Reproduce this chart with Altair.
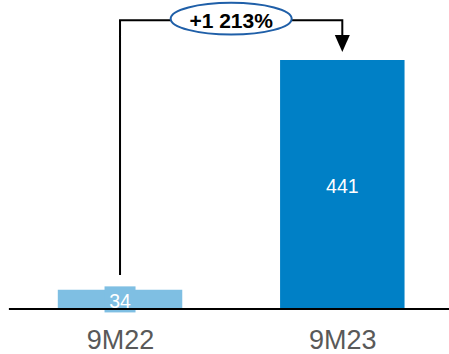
import altair as alt
import pandas as pd

# Nine-month totals for the two periods
periods = ["9M22", "9M23"]
values = [34, 441]
bar_colors = ["#7FBFE3", "#0080C6"]
growth_label = "+1 213%"

FONT = "Liberation Sans, Arial, sans-serif"

# Scale extents (data units) for the layout
X_MIN, X_MAX = -0.54, 1.48
Y_MAX = 547
HALF_BAR = 0.28

# Bracket geometry in data units
BRACKET_GAP = 26       # space between the small bar and the bracket start
BRACKET_TOP = 511      # height of the horizontal run
ARROW_TIP_GAP = 14     # space between arrow tip and the large bar

bars = pd.DataFrame({"period": periods, "value": values, "pos": list(range(len(periods)))})
bars["lo"] = bars["pos"] - HALF_BAR
bars["hi"] = bars["pos"] + HALF_BAR
bars["mid"] = bars["value"] / 2

bracket = pd.DataFrame({
    "pos": [0, 0, 1, 1],
    "y": [values[0] + BRACKET_GAP, BRACKET_TOP, BRACKET_TOP, values[1] + ARROW_TIP_GAP + 28],
    "step": [0, 1, 2, 3],
})
arrow = pd.DataFrame({"pos": [1], "y": [values[1] + ARROW_TIP_GAP]})
badge = pd.DataFrame({"pos": [0.5], "y": [BRACKET_TOP + 3], "label": [growth_label]})
baseline = pd.DataFrame({"x": [-0.5], "x2": [X_MAX], "y": [0]})

label_expr = "[" + ",".join(f"'{p}'" for p in periods) + "][datum.value]"

x_scale = alt.Scale(domain=[X_MIN, X_MAX], nice=False, zero=False)
y_scale = alt.Scale(domain=[0, Y_MAX], nice=False)

x_axis = alt.Axis(
    values=list(range(len(periods))), labelExpr=label_expr, title=None,
    grid=False, domain=False, ticks=False, labelFlush=False, labelOverlap=False,
    labelFontSize=27, labelFont=FONT, labelColor="#595959", labelPadding=18,
)

bar_layer = alt.Chart(bars).mark_bar().encode(
    x=alt.X("lo:Q", scale=x_scale, axis=x_axis),
    x2="hi:Q",
    y=alt.Y("value:Q", scale=y_scale, axis=None),
    y2=alt.datum(0),
    color=alt.Color("period:N", scale=alt.Scale(domain=periods, range=bar_colors), legend=None),
)

# Background tab behind the value on the thin bar
tab_layer = alt.Chart(bars).transform_filter(
    alt.datum.period == periods[0]
).mark_point(
    shape="M-1,-0.84H1V0.84H-1Z", size=961, filled=True, opacity=1, color=bar_colors[0]
).encode(x=alt.X("pos:Q", scale=x_scale), y=alt.Y("mid:Q", scale=y_scale))

value_labels = alt.Chart(bars).mark_text(
    color="white", fontSize=19.5, font=FONT, baseline="middle", dy=2.5
).encode(
    x=alt.X("pos:Q", scale=x_scale),
    y=alt.Y("mid:Q", scale=y_scale),
    text="value:Q",
)

baseline_layer = alt.Chart(baseline).mark_rule(color="black", strokeWidth=2).encode(
    x=alt.X("x:Q", scale=x_scale), x2="x2:Q", y=alt.Y("y:Q", scale=y_scale)
)

bracket_layer = alt.Chart(bracket).mark_line(
    color="black", strokeWidth=2, strokeJoin="miter", strokeCap="butt"
).encode(
    x=alt.X("pos:Q", scale=x_scale),
    y=alt.Y("y:Q", scale=y_scale),
    order="step:Q",
)

arrow_layer = alt.Chart(arrow).mark_point(
    shape="M-1,-2.27L1,-2.27L0,0Z", size=225, filled=True, opacity=1, color="black"
).encode(x=alt.X("pos:Q", scale=x_scale), y=alt.Y("y:Q", scale=y_scale))

k = 0.5523
r = 0.262
ellipse_path = (
    f"M1,0C1,{k*r:.4f} {k:.4f},{r} 0,{r}"
    f"C{-k:.4f},{r} -1,{k*r:.4f} -1,0"
    f"C-1,{-k*r:.4f} {-k:.4f},{-r} 0,{-r}"
    f"C{k:.4f},{-r} 1,{-k*r:.4f} 1,0Z"
)
badge_shape = alt.Chart(badge).mark_point(
    shape=ellipse_path, size=121 * 121, filled=False, fill="white", fillOpacity=1,
    stroke="#1F5FA8", strokeWidth=2, opacity=1,
).encode(x=alt.X("pos:Q", scale=x_scale), y=alt.Y("y:Q", scale=y_scale))

badge_text = alt.Chart(badge).mark_text(
    fontSize=21, fontWeight="bold", font=FONT, color="black", baseline="middle", dy=3.5
).encode(x=alt.X("pos:Q", scale=x_scale), y=alt.Y("y:Q", scale=y_scale), text="label:N")

chart = alt.layer(
    bar_layer, tab_layer, value_labels, baseline_layer,
    bracket_layer, arrow_layer, badge_shape, badge_text,
).properties(
    width=449, height=309,
    autosize=alt.AutoSizeParams(type="none"),
    padding={"left": 0, "right": 0, "top": 0, "bottom": 45},
).configure_view(stroke=None)

chart.save("out.html", embed_options={"renderer": "svg", "actions": False})
